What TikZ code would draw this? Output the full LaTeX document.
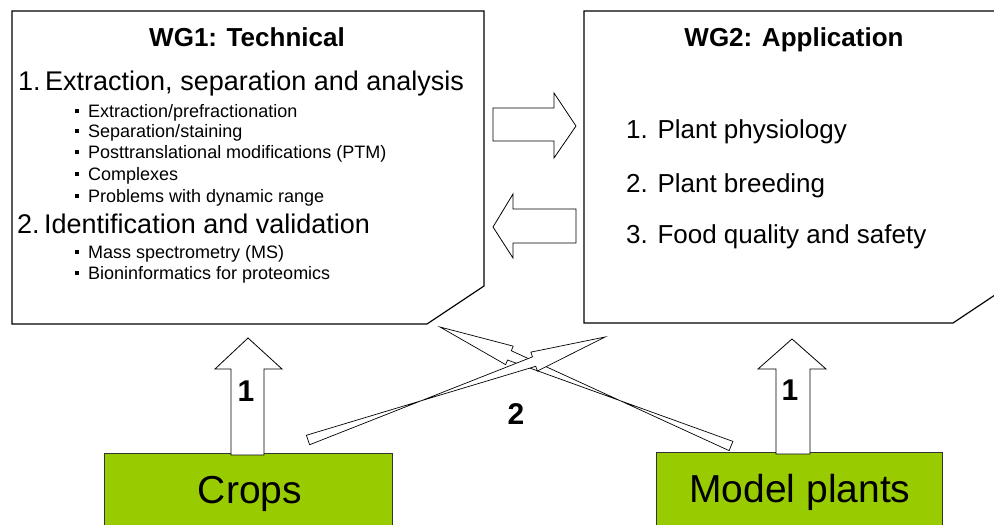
\documentclass[tikz,border=0pt]{standalone}
\usepackage{fontspec}
\setmainfont{Liberation Sans}
\usetikzlibrary{calc}
\definecolor{plantgreen}{RGB}{153,204,0}
\newcommand{\sqbul}{\makebox[13pt][l]{\rule[4pt]{4pt}{4pt}}}
\begin{document}
\begin{tikzpicture}[x=1pt,y=-1pt,
  wgbox/.style={draw=black, line width=1.2pt, fill=white, line join=miter},
  blockarrow/.style={draw=black, line width=0.8pt, fill=white, line join=miter},
  thinarrow/.style={draw=black, line width=0.7pt, fill=white, line join=miter},
  greenbox/.style={draw=black!80, line width=0.8pt, fill=plantgreen},
  wgtitle/.style={font=\fontsize{26}{30}\selectfont\bfseries, inner sep=0pt, anchor=base},
  wgitem/.style={font=\fontsize{26}{30}\selectfont, inner sep=0pt, anchor=base west},
  wgbig/.style={font=\fontsize{27}{31}\selectfont, inner sep=0pt, anchor=base west},
  wgsub/.style={font=\fontsize{18}{21}\selectfont, inner sep=0pt, anchor=base west},
  plantlabel/.style={font=\fontsize{39}{44}\selectfont, inner sep=0pt, anchor=base},
  numlabel/.style={font=\fontsize{30}{34}\selectfont\bfseries, inner sep=0pt, anchor=base},
]
\useasboundingbox (0,0) rectangle (994,525);
\clip (0,0) rectangle (994,525);
\fill[white] (0,0) rectangle (994,525);

% ---- WG boxes
\draw[wgbox] (12,11) -- (484,11) -- (484,286) -- (427,324) -- (12,324) -- cycle;
\draw[wgbox] (584,11) -- (1010,11) -- (1010,285) -- (953,323) -- (584,323) -- cycle;

% ---- WG1 text
\node[wgtitle] (t1) at (247,46) {WG1: Technical};
\node[wgbig] (i11) at (18,90) {1.\,Extraction, separation and analysis};
\node[wgsub] (s1) at (75,117) {\sqbul Extraction/prefractionation};
\node[wgsub] (s2) at (75,137) {\sqbul Separation/staining};
\node[wgsub] (s3) at (75,158) {\sqbul Posttranslational modifications (PTM)};
\node[wgsub] (s4) at (75,180) {\sqbul Complexes};
\node[wgsub] (s5) at (75,202) {\sqbul Problems with dynamic range};
\node[wgbig] (i12) at (17,233) {2.\,Identification and validation};
\node[wgsub] (s6) at (75,258) {\sqbul Mass spectrometry (MS)};
\node[wgsub] (s7) at (75,279) {\sqbul Bioninformatics for proteomics};

% ---- WG2 text
\node[wgtitle] (t2) at (794,46) {WG2: Application};
\node[wgitem] (i21) at (626,138) {1. Plant physiology};
\node[wgitem] (i22) at (626,192) {2. Plant breeding};
\node[wgitem] (i23) at (626,243) {3. Food quality and safety};

% ---- horizontal block arrows
\draw[blockarrow] (493,108) -- (554,108) -- (554,93) -- (576,126) -- (554,158) -- (554,141) -- (493,141) -- cycle;
\draw[blockarrow] (576,209) -- (513,209) -- (513,194) -- (493,227) -- (513,258) -- (513,243) -- (576,243) -- cycle;

% ---- green boxes
\draw[greenbox] (104,453) rectangle (392,540);
\draw[greenbox] (656,452) rectangle (942,540);
\node[plantlabel] (crops) at (250,503) {Crops};
\node[plantlabel] (model) at (800,502) {Model plants};

% ---- vertical block arrows
\draw[blockarrow] (231,455) -- (231,369) -- (215,369) -- (248,338) -- (282,369) -- (264,369) -- (264,455) -- cycle;
\draw[blockarrow] (776,454) -- (776,369) -- (758,369) -- (792,339) -- (826,369) -- (810,369) -- (810,454) -- cycle;
\node[numlabel] (n1a) at (246,401) {1};
\node[numlabel] (n1b) at (790,400) {1};

% ---- crossing thin block arrows
\coordinate (bT) at (731,446);
\coordinate (bP) at (440,327);
\coordinate (bH) at ($(bP)!75pt!(bT)$);
\draw[thinarrow] ($(bT)!5pt!90:(bP)$) -- ($(bH)!5pt!-90:(bP)$) -- ($(bH)!10pt!-90:(bP)$) -- (bP)
  -- ($(bH)!10pt!90:(bP)$) -- ($(bH)!5pt!90:(bP)$) -- ($(bT)!5pt!-90:(bP)$) -- cycle;

\coordinate (aT) at (308,440);
\coordinate (aP) at (605,337);
\coordinate (aH) at ($(aP)!75pt!(aT)$);
\draw[thinarrow] ($(aT)!5pt!90:(aP)$) -- ($(aH)!5pt!-90:(aP)$) -- ($(aH)!10pt!-90:(aP)$) -- (aP)
  -- ($(aH)!10pt!90:(aP)$) -- ($(aH)!5pt!90:(aP)$) -- ($(aT)!5pt!-90:(aP)$) -- cycle;

\node[numlabel] (n2) at (516,424) {2};
\end{tikzpicture}
\end{document}
